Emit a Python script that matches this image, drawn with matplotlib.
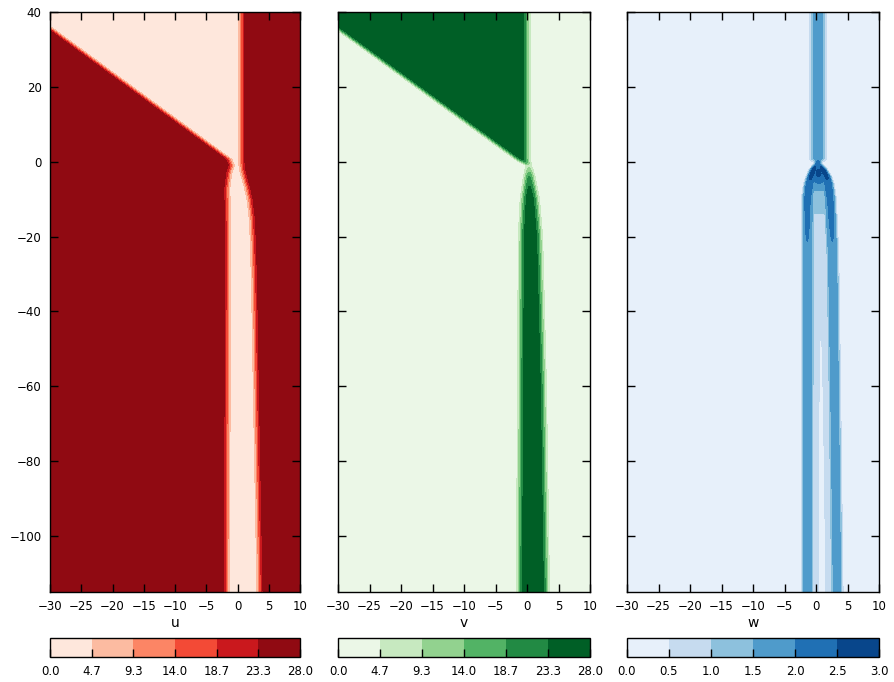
import numpy as np
import matplotlib
matplotlib.use("Agg")
import matplotlib.pyplot as plt

# ---------------- front positions (x) along depth y (ascending y) ----------------
# u: left front = oblique front above y~0, then left wall of the channel
u_left_y = [-115.0, -20.0, -7.0, -3.0, -1.0, 0.6, 35.6, 40.0]
u_left_x = [-1.75, -1.6, -1.7, -1.4, -1.0, -1.4, -30.0, -33.6]
u_right_y = [-115.0, -60.0, -35.0, -22.0, -15.0, -10.0, -7.0, -4.0, -2.0, 0.0, 40.0]
u_right_x = [3.6, 3.0, 2.75, 2.55, 2.35, 2.0, 1.6, 1.1, 0.8, 0.7, 0.7]

# v: dark band between these two fronts
v_left_y = [-115.0, -20.0, -10.0, -4.0, -1.0, 0.6, 35.6, 40.0]
v_left_x = [-1.2, -0.9, -0.6, -0.1, 0.3, -1.4, -30.0, -33.6]
v_right_y = [-115.0, -60.0, -20.0, -10.0, -4.0, -1.0, 0.6, 40.0]
v_right_x = [3.1, 2.6, 2.0, 1.5, 0.8, 0.3, 0.0, 0.0]

# w: two legs below y~0 joined in an arch, single stripe above
w_leg_y = [-115.0, -60.0, -25.0, -10.0, -6.0, -4.0, -2.0, -0.5, 1.0]
w_left_x = [-1.3, -1.3, -1.3, -1.3, -1.0, -0.7, -0.3, 0.25, 0.3]
w_right_x = [3.3, 2.9, 2.6, 2.2, 1.9, 1.6, 1.0, 0.35, 0.3]
w_leg_halfwidth = [0.85, 0.85, 0.85, 0.85, 0.8, 0.7, 0.55, 0.35, 0.35]
w_leg_amp = [1.8, 1.85, 1.95, 2.15, 2.35, 2.6, 2.75, 2.3, 1.9]
w_fill_y = [-115.0, -50.0, -18.0, -12.0, -8.0, -5.0, -2.5, -0.5, 0.5]
w_fill_amp = [0.75, 0.75, 0.8, 1.1, 1.45, 2.2, 3.0, 2.2, 0.0]
w_dip_y = [-115.0, -48.0, -45.0]
w_dip_amp = [0.55, 0.35, 0.0]
w_top_center = 0.3
w_top_amp = 1.9

u_levels = np.linspace(0.0, 28.0, 7)
v_levels = np.linspace(0.0, 28.0, 7)
w_levels = np.linspace(0.0, 3.0, 7)

# ---------------- grid ----------------
x = np.linspace(-30.0, 10.0, 801)
y = np.linspace(-115.0, 40.0, 621)
X, Y = np.meshgrid(x, y)


def step(z):
    return 0.5 * (1.0 + np.tanh(z))


def front(yy, xp_y, xp_x):
    return np.interp(yy, xp_y, xp_x)[:, None]


# u field
xl = front(y, u_left_y, u_left_x)
xr = front(y, u_right_y, u_right_x)
e = 0.6
u = 28.0 * (step((xl - X) / e) + step((X - xr) / e))
u = np.clip(u, 0.0, 27.999)

# v field
xl = front(y, v_left_y, v_left_x)
xr = front(y, v_right_y, v_right_x)
v = 28.0 * step((X - xl) / e) * step((xr - X) / e)
v = np.clip(v, 0.0, 27.999)

# w field: legs with a sharp outer edge and a softer inner edge
e_out, e_in = 0.3, 0.4
cl = front(y, w_leg_y, w_left_x)
cr = front(y, w_leg_y, w_right_x)
hw = front(y, w_leg_y, w_leg_halfwidth)
amp = front(y, w_leg_y, w_leg_amp)
leg_l = step((X - (cl - hw)) / e_out) * step(((cl + hw) - X) / e_in)
leg_r = step(((cr + hw) - X) / e_out) * step((X - (cr - hw)) / e_in)
leg = np.maximum(leg_l, leg_r)
leg = leg / leg.max(axis=1, keepdims=True)
fill = front(y, w_fill_y, w_fill_amp) * step((X - cl) / 0.5) * step((cr - X) / 0.5)
dip = front(y, w_dip_y, w_dip_amp) * np.exp(-((X - 0.5 * (cl + cr)) / 0.8) ** 2)
w_low = np.maximum(amp * leg, fill * (1.0 - dip))
w_up = w_top_amp * 0.5 * (np.tanh((X - w_top_center + 1.1) / 0.55)
                          - np.tanh((X - w_top_center - 1.1) / 0.55))
wt = step((Y - 0.3) / 0.5)
w = wt * w_up + (1.0 - wt) * w_low
w = np.clip(w, 0.0, 2.999)

# ---------------- figure ----------------
fig = plt.figure(figsize=(8.94, 6.82), dpi=100)
W, H = 894.0, 682.0
panels = [(50, 300), (338, 590), (627, 879)]
fields = [(u, u_levels, "Reds", "u"), (v, v_levels, "Greens", "v"), (w, w_levels, "Blues", "w")]

for i, ((px0, px1), (Z, lev, cmap, name)) in enumerate(zip(panels, fields)):
    ax = fig.add_axes([px0 / W, (H - 592) / H, (px1 - px0) / W, 580 / H])
    cf = ax.contourf(X, Y, Z, levels=lev, cmap=cmap)
    ax.set_xlim(-30, 10)
    ax.set_ylim(-115, 40)
    ax.set_xticks(np.arange(-30, 11, 5))
    ax.set_yticks(np.arange(-100, 41, 20))
    ax.tick_params(direction="in", top=True, right=True, length=6, width=1,
                   labelsize=8.5, pad=6, labelleft=(i == 0))
    for sp in ax.spines.values():
        sp.set_linewidth(1.0)
    ax.set_xlabel(name, fontsize=10, labelpad=2)

    cax = fig.add_axes([px0 / W, (H - 657) / H, (px1 - px0) / W, 19 / H])
    cb = fig.colorbar(cf, cax=cax, orientation="horizontal", ticks=lev)
    cb.ax.set_xticklabels([f"{l:.1f}" for l in lev])
    cb.ax.tick_params(direction="in", length=6, width=1, labelsize=8.5, pad=6)
    cb.outline.set_linewidth(1.0)

fig.savefig("out.png", dpi=100)
